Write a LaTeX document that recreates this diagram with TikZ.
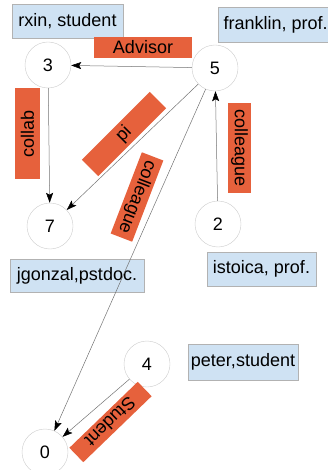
\documentclass[tikz,border=0pt]{standalone}
\usepackage{fontspec}
\setmainfont{Liberation Sans}
\usetikzlibrary{arrows.meta}
\definecolor{infoblue}{RGB}{207,226,243}
\definecolor{relorange}{RGB}{230,97,60}
\tikzset{
  vertex/.style={circle,draw=black!20,fill=white,minimum size=46pt,inner sep=0pt},
  who/.style={draw=black!30,fill=infoblue,minimum height=34pt,inner sep=2pt},
  rel/.style={fill=relorange,minimum height=23pt,inner sep=1pt},
  link/.style={draw=black!55,line width=0.5pt,-{Stealth[length=10pt,width=7pt,inset=2pt,black]}}
}
\begin{document}
\begin{tikzpicture}[x=1pt,y=-1pt,font=\fontsize{18}{20}\selectfont]
      \useasboundingbox (0,0) rectangle (327,470);
      \node[who,minimum width=111pt] (lrxin) at (67.5,21) {rxin, student};
      \node[who,anchor=west,minimum width=115pt,minimum height=35pt] (lfranklin) at (218,24.5) {franklin, prof.};
      \node[who,minimum width=134pt,minimum height=33pt] (ljgonzal) at (77,275.5) {jgonzal,pstdoc.};
      \node[who,minimum width=109pt] (listoica) at (261.5,269) {istoica, prof.};
      \node[who,minimum width=110pt,minimum height=36pt] (lpeter) at (243,362) {peter,student};
      \node[vertex] (n3) at (48,65) {3};
      \node[vertex] (n5) at (215,68) {5};
      \node[vertex] (n7) at (50,226) {7};
      \node[vertex] (n2) at (218,224) {2};
      \node[vertex] (n4) at (147,364) {4};
      \node[vertex] (n0) at (45,452) {0};
      \node[rel,minimum width=98pt,minimum height=21pt] (radvisor) at (143,47.5) {Advisor};
      \node[rel,minimum width=91pt,minimum height=25pt,rotate=90] (rcollab) at (27.5,133.5) {collab};
      \node[rel,minimum width=96pt,rotate=45] (rpi) at (124,134) {pi};
      \node[rel,minimum width=87pt,rotate=-111] (rcolleaguea) at (137,197) {colleague};
      \node[rel,minimum width=90pt,rotate=-90] (rcolleagueb) at (239.5,148) {colleague};
      \node[rel,minimum width=95pt,minimum height=20pt,rotate=-136] (rstudent) at (110.5,422) {Student};
      \draw[link] (n5) -- (n3);
      \draw[link] (n3) -- (n7);
      \draw[link] (n5) -- (n7);
      \draw[link] (n5) -- (n0);
      \draw[link] (n2) -- (n5);
      \draw[link] (n4) -- (n0);
\end{tikzpicture}
\end{document}
